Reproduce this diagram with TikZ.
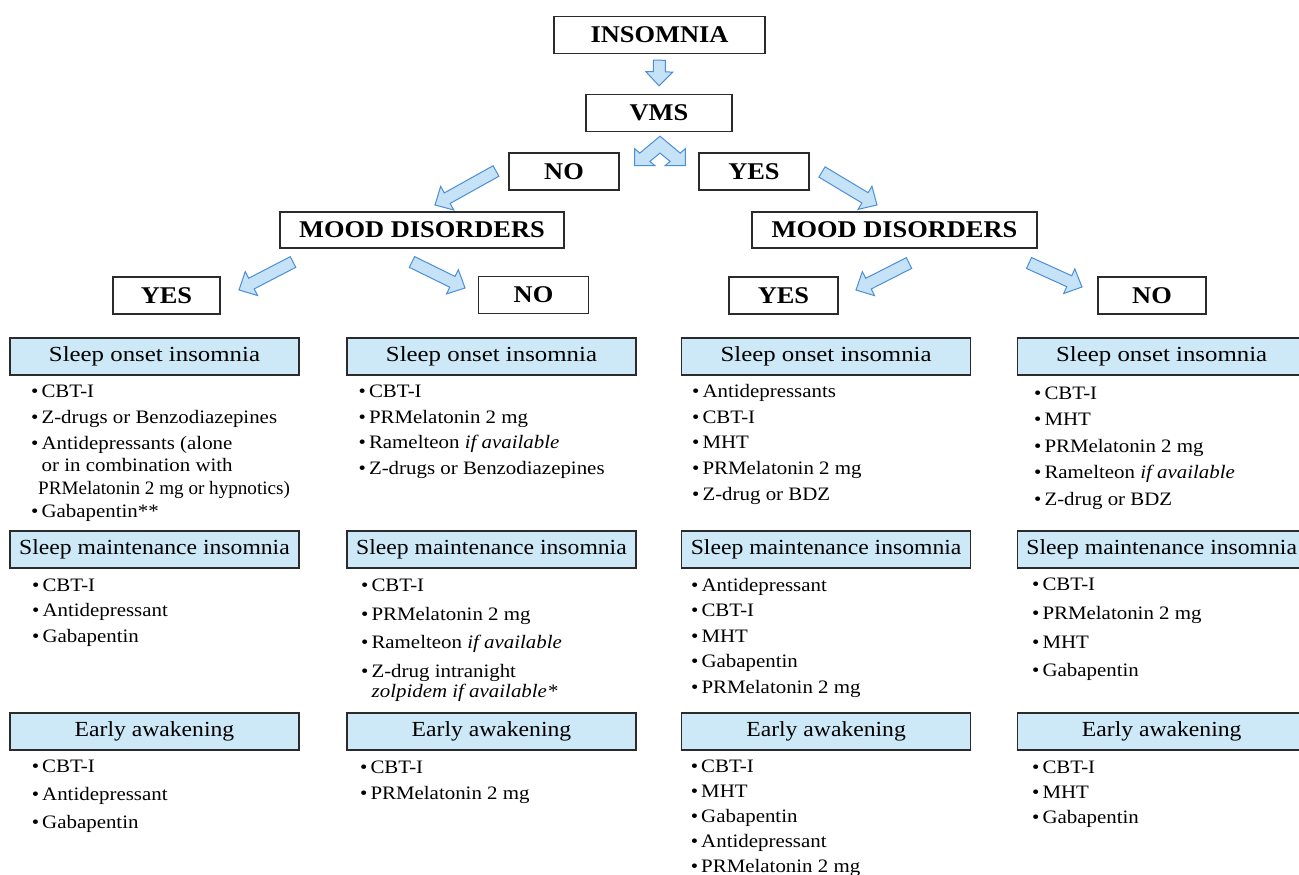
\documentclass[tikz,border=0pt]{standalone}
\usepackage{fontspec}
\setmainfont{Liberation Serif}[FakeStretch=1.1]
\usepackage{graphicx}
\usetikzlibrary{positioning,calc}

\definecolor{headblue}{HTML}{CDE8F7}
\definecolor{arrowfill}{HTML}{C6E2F7}
\definecolor{arrowline}{HTML}{4A8FD6}
\definecolor{boxline}{HTML}{2B2B2B}

\newcommand{\itemdot}{\textbullet\hspace{3pt}}
% block arrow from tail #1 to tip #2
\newcommand{\fatarrow}[2]{%
  \coordinate (fa-h) at ($(#2)!14pt!(#1)$);
  \filldraw[fatarrow] ($(#1)!6pt!90:(#2)$) -- ($(fa-h)!6pt!90:(#2)$) -- ($(fa-h)!13.5pt!90:(#2)$) -- (#2)
    -- ($(fa-h)!13.5pt!-90:(#2)$) -- ($(fa-h)!6pt!-90:(#2)$) -- ($(#1)!6pt!-90:(#2)$) -- cycle;}

\tikzset{
  decision/.style={draw=boxline, line width=1.4pt, fill=white, inner sep=0pt,
    minimum height=37pt, font=\fontsize{24}{28}\selectfont\bfseries},
  category/.style={draw=boxline, line width=1.4pt, fill=headblue, inner sep=0pt,
    minimum width=289pt, minimum height=37pt, font=\fontsize{21.5}{25}\selectfont},
  itemlist/.style={anchor=base west, inner sep=0pt, font=\fontsize{19}{#1}\selectfont},
  fatarrow/.style={fill=arrowfill, draw=arrowline, line width=1pt, line join=miter}
}

\begin{document}
\begin{tikzpicture}[x=1pt, y=-1pt]
    \useasboundingbox (0,0) rectangle (1299,875);
    \fill[white] (0,0) rectangle (1299,875);

    % decision chain
    \node[decision, minimum width=211pt] (insomnia) at (659.5,35) {INSOMNIA};
    \node[decision, minimum width=146pt] (vms) at (659,113) {VMS};
    \node[decision, minimum width=110pt] (vmsno) at (564,171.5) {NO};
    \node[decision, minimum width=110pt] (vmsyes) at (754,171.5) {YES};
    \node[decision, minimum width=284pt, minimum height=36pt] (moodno) at (422,230) {MOOD DISORDERS};
    \node[decision, minimum width=285pt, minimum height=36pt] (moodyes) at (894.5,230) {MOOD DISORDERS};
    \node[decision, minimum width=107pt] (noyes) at (166.5,295.5) {YES};
    \node[decision, minimum width=110pt] (nono) at (533.5,295) {NO};
    \node[decision, minimum width=109pt] (yesyes) at (783.5,295.5) {YES};
    \node[decision, minimum width=108pt] (yesno) at (1152,295.5) {NO};

    % block arrows
    \coordinate (a0t) at ($(insomnia.south)+(0,6)$);
    \coordinate (a0h) at ($(vms.north)+(0,-8)$);
    \fatarrow{a0t}{a0h}
    \begin{scope}[shift={($(vms.south)+(1,4)$)}, xscale=1.1, yscale=0.92]
      \filldraw[fatarrow] (0,0) -- (-18.4,18.4) -- (-23,13.6) -- (-23,32) -- (-4.6,32) -- (-9.2,27.4)
        -- (0,18.4) -- (9.2,27.4) -- (4.6,32) -- (23,32) -- (23,13.6) -- (18.4,18.4) -- cycle;
    \end{scope}
    \coordinate (a1t) at (496,171);
    \coordinate (a1h) at (435,205);
    \coordinate (a2t) at (822,172);
    \coordinate (a2h) at (877,205);
    \coordinate (a3t) at (293,262);
    \coordinate (a3h) at (239,290);
    \coordinate (a4t) at (412,262);
    \coordinate (a4h) at (465,288);
    \coordinate (a5t) at (909,263);
    \coordinate (a5h) at (856,290);
    \coordinate (a6t) at (1029,263);
    \coordinate (a6h) at (1082,287);
    \fatarrow{a1t}{a1h}
    \fatarrow{a2t}{a2h}
    \fatarrow{a3t}{a3h}
    \fatarrow{a4t}{a4h}
    \fatarrow{a5t}{a5h}
    \fatarrow{a6t}{a6h}

    % category headers
    \node[category] (onset1) at (154.5,356.5) {\scalebox{1.05}[1]{Sleep onset insomnia}};
    \node[category, right=46.6pt of onset1] (onset2) {\scalebox{1.05}[1]{Sleep onset insomnia}};
    \node[category, right=44.2pt of onset2] (onset3) {\scalebox{1.05}[1]{Sleep onset insomnia}};
    \node[category, right=45.2pt of onset3] (onset4) {\scalebox{1.05}[1]{Sleep onset insomnia}};
    \node[category] (maint1) at (154.5,549.5) {Sleep maintenance insomnia};
    \node[category, right=46.6pt of maint1] (maint2) {Sleep maintenance insomnia};
    \node[category, right=44.2pt of maint2] (maint3) {Sleep maintenance insomnia};
    \node[category, right=45.2pt of maint3] (maint4) {Sleep maintenance insomnia};
    \node[category] (early1) at (154.5,731.5) {Early awakening};
    \node[category, right=46.6pt of early1] (early2) {Early awakening};
    \node[category, right=44.2pt of early2] (early3) {Early awakening};
    \node[category, right=45.2pt of early3] (early4) {Early awakening};

    % treatment lists
    \node[itemlist=26pt] (onsetlist1) at (31,397) {\begin{tabular}[t]{@{}l@{}}
      \itemdot CBT-I\\
      \itemdot Z-drugs or Benzodiazepines\\
      \itemdot Antidepressants (alone\\[-3.5pt]
      \hspace*{10.5pt}or in combination with\\[-3.5pt]
      \hspace*{7pt}\scalebox{0.915}[1]{PRMelatonin 2 mg or hypnotics)}\\[-2.7pt]
      \itemdot Gabapentin**\end{tabular}};
    \node[itemlist=25.5pt] (onsetlist2) at (358.5,397.7) {\begin{tabular}[t]{@{}l@{}}
      \itemdot CBT-I\\
      \itemdot PRMelatonin 2 mg\\
      \itemdot Ramelteon \textit{if available}\\
      \itemdot Z-drugs or Benzodiazepines\end{tabular}};
    \node[itemlist=25.6pt] (onsetlist3) at (692,397.7) {\begin{tabular}[t]{@{}l@{}}
      \itemdot Antidepressants\\
      \itemdot CBT-I\\
      \itemdot MHT\\
      \itemdot PRMelatonin 2 mg\\
      \itemdot Z-drug or BDZ\end{tabular}};
    \node[itemlist=26.5pt] (onsetlist4) at (1034,399.3) {\begin{tabular}[t]{@{}l@{}}
      \itemdot CBT-I\\
      \itemdot MHT\\
      \itemdot PRMelatonin 2 mg\\
      \itemdot Ramelteon \textit{if available}\\
      \itemdot Z-drug or BDZ\end{tabular}};

    \node[itemlist=25.5pt] (maintlist1) at (32,591) {\begin{tabular}[t]{@{}l@{}}
      \itemdot CBT-I\\
      \itemdot Antidepressant\\
      \itemdot Gabapentin\end{tabular}};
    \node[itemlist=28.5pt] (maintlist2) at (361,591.7) {\begin{tabular}[t]{@{}l@{}}
      \itemdot CBT-I\\
      \itemdot PRMelatonin 2 mg\\
      \itemdot Ramelteon \textit{if available}\\
      \itemdot Z-drug intranight\\[-8.5pt]
      \hspace*{10.5pt}\textit{zolpidem if available*}\end{tabular}};
    \node[itemlist=25.5pt] (maintlist3) at (691,591) {\begin{tabular}[t]{@{}l@{}}
      \itemdot Antidepressant\\
      \itemdot CBT-I\\
      \itemdot MHT\\
      \itemdot Gabapentin\\
      \itemdot PRMelatonin 2 mg\end{tabular}};
    \node[itemlist=28.7pt] (maintlist4) at (1032,590.7) {\begin{tabular}[t]{@{}l@{}}
      \itemdot CBT-I\\
      \itemdot PRMelatonin 2 mg\\
      \itemdot MHT\\
      \itemdot Gabapentin\end{tabular}};

    \node[itemlist=27.8pt] (earlylist1) at (31.7,772.7) {\begin{tabular}[t]{@{}l@{}}
      \itemdot CBT-I\\
      \itemdot Antidepressant\\
      \itemdot Gabapentin\end{tabular}};
    \node[itemlist=26pt] (earlylist2) at (360,773) {\begin{tabular}[t]{@{}l@{}}
      \itemdot CBT-I\\
      \itemdot PRMelatonin 2 mg\end{tabular}};
    \node[itemlist=25pt] (earlylist3) at (690.7,772.7) {\begin{tabular}[t]{@{}l@{}}
      \itemdot CBT-I\\
      \itemdot MHT\\
      \itemdot Gabapentin\\
      \itemdot Antidepressant\\
      \itemdot PRMelatonin 2 mg\end{tabular}};
    \node[itemlist=25pt] (earlylist4) at (1032,773) {\begin{tabular}[t]{@{}l@{}}
      \itemdot CBT-I\\
      \itemdot MHT\\
      \itemdot Gabapentin\end{tabular}};
\end{tikzpicture}
\end{document}
